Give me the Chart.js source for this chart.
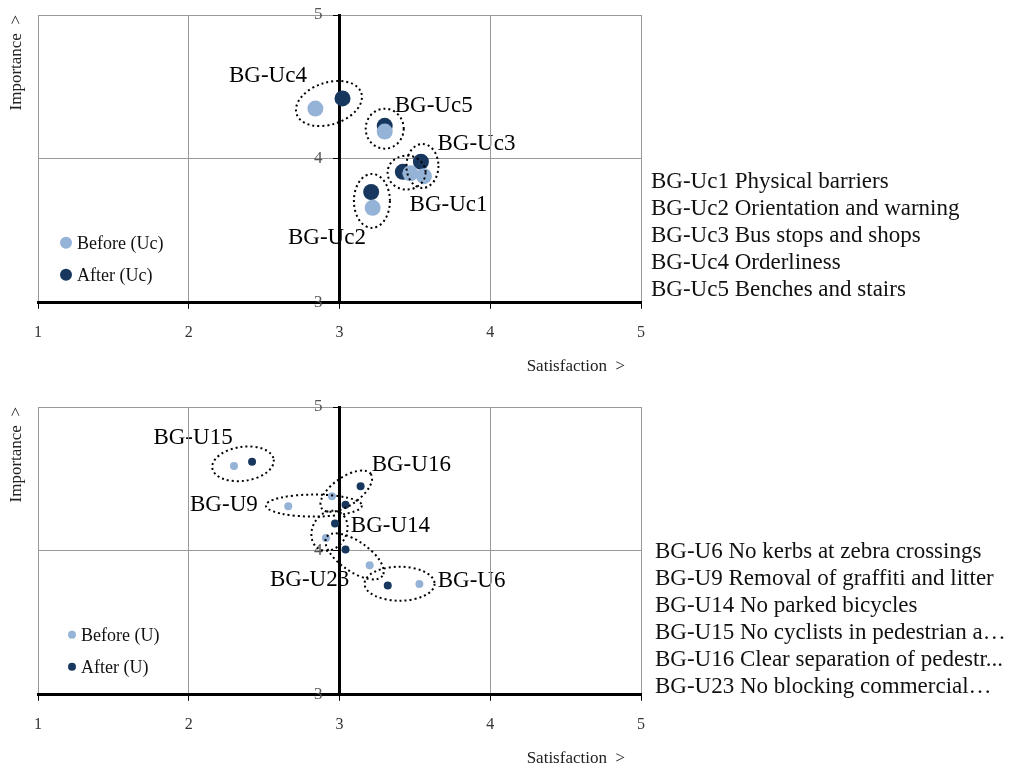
<!DOCTYPE html>
<html>
<head>
<meta charset="utf-8">
<script src="https://cdn.jsdelivr.net/npm/chart.js@4.4.1/dist/chart.umd.min.js"></script>
<style>
  body { margin: 0; width: 1017px; height: 772px; background: #fff; position: relative; overflow: hidden; font-family: "Liberation Serif", serif; }
  .box { position: absolute; left: 0; width: 659px; height: 386px; }
  .list { position: absolute; font-size: 23px; line-height: 27px; color: #111; white-space: nowrap; }
</style>
</head>
<body>
<div class="box" style="top:0"><canvas id="chartTop"></canvas></div>
<div class="box" style="top:392px"><canvas id="chartBottom"></canvas></div>
<div class="list" id="listTop" style="left:651px; top:167px"></div>
<div class="list" id="listBottom" style="left:655px; top:537px"></div>
<script>
// --- top chart (Uc) ---
const topCodes = ["BG-Uc1", "BG-Uc2", "BG-Uc3", "BG-Uc4", "BG-Uc5"];
const topNames = ["Physical barriers", "Orientation and warning", "Bus stops and shops", "Orderliness", "Benches and stairs"];
const topBeforeX = [3.47, 3.22, 3.56, 2.84, 3.30];
const topBeforeY = [3.90, 3.66, 3.88, 4.35, 4.19];
const topAfterX = [3.42, 3.21, 3.54, 3.02, 3.30];
const topAfterY = [3.91, 3.77, 3.98, 4.42, 4.23];

// --- bottom chart (U) ---
const botCodes = ["BG-U6", "BG-U9", "BG-U14", "BG-U15", "BG-U16", "BG-U23"];
const botNames = ["No kerbs at zebra crossings", "Removal of graffiti and litter", "No parked bicycles",
  "No cyclists in pedestrian a…", "Clear separation of pedestr...", "No blocking commercial…"];
const botBeforeX = [3.53, 2.66, 2.91, 2.30, 2.95, 3.20];
const botBeforeY = [3.77, 4.31, 4.09, 4.59, 4.38, 3.90];
const botAfterX = [3.32, 3.04, 2.97, 2.42, 3.14, 3.04];
const botAfterY = [3.76, 4.32, 4.19, 4.62, 4.45, 4.01];

const xTicks = [1, 2, 3, 4, 5];
const yTicks = [3, 4, 5];
const xTitle = "Satisfaction  >";
const yTitle = "Importance  >";

const LIGHT = "#95B3D7";
const DARK = "#17375E";
const FONT = '"Liberation Serif", serif';

function fillList(el, codes, names) {
  codes.forEach((c, i) => {
    const d = document.createElement("div");
    d.textContent = c + " " + names[i];
    el.appendChild(d);
  });
}
fillList(document.getElementById("listTop"), topCodes, topNames);
fillList(document.getElementById("listBottom"), botCodes, botNames);

const pairMarks = {
  id: "pairMarks",
  // labels go under the axes, like in the original
  beforeDraw(chart, args, opts) {
    const ctx = chart.ctx;
    ctx.save();
    ctx.font = "23px " + FONT;
    ctx.fillStyle = "#000";
    ctx.textAlign = "center";
    ctx.textBaseline = "middle";
    opts.codes.forEach((code, i) => {
      const c = pairCenter(chart, i);
      ctx.fillText(code, c.x + opts.tags[i][0], c.y + opts.tags[i][1]);
    });
    ctx.restore();
  },
  afterDatasetsDraw(chart, args, opts) {
    const ctx = chart.ctx;
    ctx.save();
    ctx.setLineDash([2, 3]);
    ctx.lineWidth = 2;
    ctx.strokeStyle = "#000";
    opts.codes.forEach((code, i) => {
      const c = pairCenter(chart, i);
      const r = opts.rings[i];
      ctx.beginPath();
      ctx.ellipse(c.x + (r[3] || 0), c.y + (r[4] || 0), r[0], r[1], r[2] * Math.PI / 180, 0, Math.PI * 2);
      ctx.stroke();
    });
    ctx.restore();
  },
  afterDraw(chart, args, opts) {
    const ctx = chart.ctx;
    const area = chart.chartArea;
    ctx.save();
    // legend inside the plot
    chart.data.datasets.forEach((ds, i) => {
      const y = area.bottom - opts.legendY[i];
      const x = area.left + opts.legendX;
      ctx.beginPath();
      ctx.fillStyle = ds.backgroundColor;
      ctx.arc(x, y, opts.legendR, 0, Math.PI * 2);
      ctx.fill();
      ctx.fillStyle = "#111";
      ctx.font = "18px " + FONT;
      ctx.textAlign = "left";
      ctx.textBaseline = "middle";
      ctx.fillText(ds.label, x + opts.legendR + 5, y + 1);
    });
    // axis titles
    ctx.font = "17px " + FONT;
    ctx.fillStyle = "#222";
    ctx.textAlign = "right";
    ctx.textBaseline = "middle";
    ctx.fillText(xTitle, area.right - 16, area.bottom + 64);
    ctx.translate(17, area.top);
    ctx.rotate(-Math.PI / 2);
    ctx.fillText(yTitle, 0, 0);
    ctx.restore();
  },
};

function pairCenter(chart, i) {
  const xs = chart.scales.x, ys = chart.scales.y;
  const b = chart.data.datasets[0].data[i];
  const a = chart.data.datasets[1].data[i];
  return {
    x: (xs.getPixelForValue(b.x) + xs.getPixelForValue(a.x)) / 2,
    y: (ys.getPixelForValue(b.y) + ys.getPixelForValue(a.y)) / 2,
  };
}

function makeChart(canvas, info) {
  const before = info.beforeX.map((x, i) => ({ x: x, y: info.beforeY[i] }));
  const after = info.afterX.map((x, i) => ({ x: x, y: info.afterY[i] }));
  return new Chart(canvas, {
    type: "scatter",
    data: {
      datasets: [
        { label: info.legend[0], data: before, backgroundColor: LIGHT, borderColor: LIGHT, pointRadius: info.radius, pointHoverRadius: info.radius, borderWidth: 0 },
        { label: info.legend[1], data: after, backgroundColor: DARK, borderColor: DARK, pointRadius: info.radius, pointHoverRadius: info.radius, borderWidth: 0 },
      ],
    },
    options: {
      responsive: true,
      maintainAspectRatio: false,
      animation: false,
      layout: { padding: { left: 38, right: 0, top: 15, bottom: 30 } },
      plugins: {
        legend: { display: false },
        tooltip: { enabled: false },
        pairMarks: info.marks,
      },
      scales: {
        x: {
          type: "linear",
          position: "bottom",
          min: 1,
          max: 5,
          afterBuildTicks: (s) => { s.ticks = xTicks.map((v) => ({ value: v })); },
          ticks: { padding: 14, color: "#333", font: { family: FONT, size: 16 } },
          grid: { color: "#999", lineWidth: 1, tickColor: "#000", tickLength: 6 },
          border: { color: "#000", width: 3 },
        },
        y: {
          type: "linear",
          position: { x: 3 },
          min: 3,
          max: 5,
          afterBuildTicks: (s) => { s.ticks = yTicks.map((v) => ({ value: v })); },
          // an axis placed at x = 3 draws its labels flush with the line, so pad them with spaces
          ticks: { padding: 2, color: "#555", font: { family: FONT, size: 17 }, callback: (v) => v + "    " },
          grid: { color: "#999", lineWidth: 1, tickColor: "#000", tickLength: 5 },
          border: { color: "#000", width: 3 },
        },
      },
    },
    plugins: [pairMarks],
  });
}

makeChart(document.getElementById("chartTop"), {
  beforeX: topBeforeX, beforeY: topBeforeY, afterX: topAfterX, afterY: topAfterY,
  legend: ["Before (Uc)", "After (Uc)"],
  radius: 8,
  marks: {
    codes: topCodes,
    // [rx, ry, rotation deg, dx, dy]
    rings: [[19, 17, 0], [18, 27, 0, 0, 1], [16, 22, 0, 0, -3], [34, 21, -18], [19, 20, 0]],
    tags: [[42, 32], [-45, 38], [54, -25], [-61, -28], [49, -23]],
    legendX: 28, legendY: [60, 28], legendR: 6,
  },
});

makeChart(document.getElementById("chartBottom"), {
  beforeX: botBeforeX, beforeY: botBeforeY, afterX: botAfterX, afterY: botAfterY,
  legend: ["Before (U)", "After (U)"],
  radius: 4,
  marks: {
    codes: botCodes,
    rings: [[35, 17, 0, -4, -1], [48, 11, 0, -3, 0], [21, 17, -60, -1, 0], [31, 17, -8], [30, 14, -35], [34, 15, 35, -3, -1]],
    tags: [[68, -4], [-93, -1], [60, -5], [-50, -26], [65, -26], [-48, 23]],
    legendX: 34, legendY: [60, 28], legendR: 4,
  },
});
</script>
</body>
</html>
